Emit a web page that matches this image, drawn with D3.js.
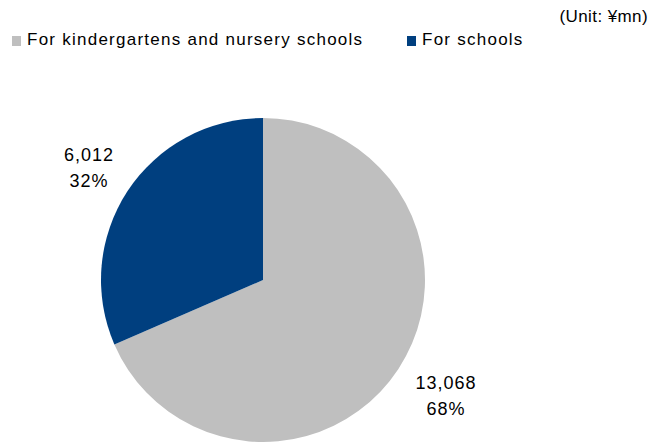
<!DOCTYPE html>
<html lang="en">
<head>
<meta charset="UTF-8">
<title>Pie chart</title>
<script src="https://d3js.org/d3.v7.min.js"></script>
<style>
  body { margin: 0; background: #fff; }
  svg text { font-family: "Liberation Sans", Arial, sans-serif; fill: #000; }
</style>
</head>
<body>
<div id="chart"></div>
<script>
  // data
  const categories = ["For kindergartens and nursery schools", "For schools"];
  const values = [13068, 6012];
  const colors = ["#BFBFBF", "#003F7F"];
  const unitLabel = "(Unit: ¥mn)";

  const width = 650, height = 443;
  const cx = 263, cy = 280, radius = 162;

  const svg = d3.select("#chart").append("svg")
    .attr("width", width)
    .attr("height", height);

  const total = d3.sum(values);
  const pie = d3.pie().sort(null).value(d => d);
  const arc = d3.arc().innerRadius(0).outerRadius(radius);

  const g = svg.append("g").attr("transform", `translate(${cx},${cy})`);
  const arcs = pie(values);

  g.selectAll("path")
    .data(arcs)
    .enter()
    .append("path")
    .attr("d", arc)
    .attr("fill", (d, i) => colors[i]);

  // data labels, outside the slices
  const labelPos = [[183, 109], [-174, -119]];
  const labels = g.selectAll("g.lbl")
    .data(arcs)
    .enter()
    .append("g")
    .attr("class", "lbl")
    .attr("transform", (d, i) => `translate(${labelPos[i][0]},${labelPos[i][1]})`);
  labels.append("text")
    .attr("text-anchor", "middle")
    .attr("font-size", 18)
    .attr("letter-spacing", 1)
    .text(d => d3.format(",")(d.value));
  labels.append("text")
    .attr("text-anchor", "middle")
    .attr("font-size", 18)
    .attr("letter-spacing", 1)
    .attr("y", 26)
    .text(d => Math.round(d.value / total * 100) + "%");

  // legend
  const legendX = [12, 407];
  const legend = svg.selectAll("g.leg")
    .data(categories)
    .enter()
    .append("g")
    .attr("class", "leg")
    .attr("transform", (d, i) => `translate(${legendX[i]},35)`);
  legend.append("rect")
    .attr("width", 9).attr("height", 10)
    .attr("y", 1)
    .attr("fill", (d, i) => colors[i]);
  legend.append("text")
    .attr("x", 15).attr("y", 10)
    .attr("font-size", 17)
    .attr("letter-spacing", 1.25)
    .text(d => d);

  svg.append("text")
    .attr("x", 648).attr("y", 22)
    .attr("text-anchor", "end")
    .attr("font-size", 17)
    .attr("letter-spacing", 0.4)
    .text(unitLabel);
</script>
</body>
</html>
